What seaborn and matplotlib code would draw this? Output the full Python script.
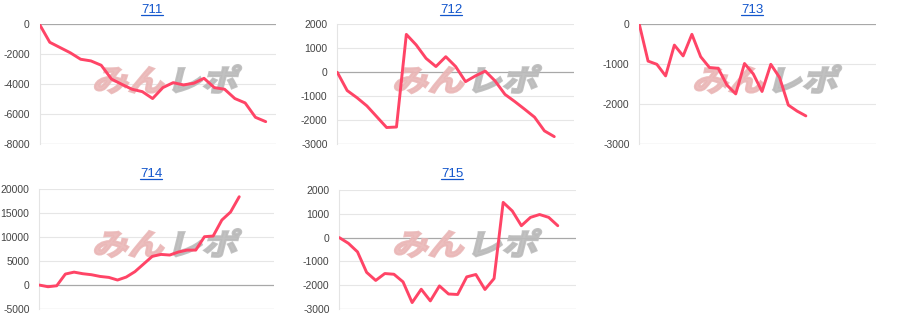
import matplotlib
matplotlib.use("Agg")
import numpy as np
import pandas as pd
import seaborn as sns
import matplotlib.pyplot as plt
from matplotlib.textpath import TextPath
from matplotlib.patches import PathPatch
from matplotlib.font_manager import FontProperties
from matplotlib.transforms import Affine2D, IdentityTransform
from matplotlib.lines import Line2D

titles = ["711", "712", "713", "714", "715"]

v711 = [0, -1200, -1550, -1900, -2330, -2440, -2730, -3650, -4000, -4330, -4490,
        -4950, -4220, -3890, -4040, -3930, -3600, -4220, -4330, -4950, -5240, -6200, -6490]
v712 = [0, -760, -1060, -1400, -1850, -2300, -2280, 1580, 1140, 580, 240, 650, 240,
        -390, -150, 50, -360, -920, -1220, -1540, -1870, -2440, -2680]
v713 = [0, -920, -1000, -1290, -520, -790, -250, -810, -1080, -1100, -1520, -1740,
        -980, -1240, -1680, -1000, -1330, -2020, -2170, -2290]
v714 = [0, -350, -150, 2300, 2700, 2370, 2160, 1800, 1600, 1050, 1670, 2800, 4400,
        6000, 6400, 6270, 6900, 7300, 7300, 10100, 10240, 13580, 15250, 18450]
v715 = [0, -240, -600, -1460, -1800, -1510, -1540, -1860, -2730, -2170, -2660, -2030,
        -2370, -2390, -1650, -1550, -2180, -1720, 1480, 1120, 500, 850, 970, 850, 500]

series = [v711, v712, v713, v714, v715]
x_max = [23, 24, 27, 27, 26]
y_ticks = [
    [-8000, -6000, -4000, -2000, 0],
    [-3000, -2000, -1000, 0, 1000, 2000],
    [-3000, -2000, -1000, 0],
    [-5000, 0, 5000, 10000, 15000, 20000],
    [-3000, -2000, -1000, 0, 1000, 2000],
]

sns.set_style("white")
plt.rcParams["font.family"] = ["Liberation Sans", "DejaVu Sans"]

W, H = 900, 330
fig = plt.figure(figsize=(9, 3.3), dpi=100)

# axes boxes in pixels: left, right, top, bottom (from top of image)
boxes = [
    (39.5, 276, 24.3, 144.3),
    (337.3, 574, 24.3, 144.3),
    (639.3, 876, 24.3, 144.3),
    (39.3, 274, 189.3, 309),
    (339.3, 576, 190, 309),
]
title_pos = [(152, 10), (451, 10), (752, 10), (151, 174), (452, 174)]
cells = [(0, 0), (300, 0), (600, 0), (0, 164), (300, 164)]

line_color = "#ff4466"
texts = []
for i, (name, vals) in enumerate(zip(titles, series)):
    l, r, t, b = boxes[i]
    ax = fig.add_axes([l / W, 1 - b / H, (r - l) / W, (b - t) / H])
    df = pd.DataFrame({"x": np.arange(len(vals)), "y": vals})
    sns.lineplot(data=df, x="x", y="y", ax=ax, color=line_color, linewidth=2.1,
                 zorder=3)
    ticks = y_ticks[i]
    ax.set_ylim(ticks[0], ticks[-1])
    ax.set_xlim(0, x_max[i])
    ax.set_yticks(ticks)
    ax.set_yticklabels([str(v) for v in ticks])
    ax.set_xticks([])
    ax.set_xlabel("")
    ax.set_ylabel("")
    for s in ["top", "right", "bottom"]:
        ax.spines[s].set_visible(False)
    ax.spines["left"].set_color("#e4e4e4")
    ax.spines["left"].set_linewidth(0.8)
    ax.tick_params(axis="y", length=0, pad=7, labelsize=7.5, labelcolor="#444444")
    for tv in ticks:
        if tv == 0:
            c, lw = "#a8a8a8", 0.9
        elif tv == ticks[0]:
            c, lw = "#cccccc", 0.9
        else:
            c, lw = "#e6e6e6", 0.8
        ax.axhline(tv, color=c, linewidth=lw, zorder=0.5)
    if ax.get_legend() is not None:
        ax.get_legend().remove()

    tx, ty = title_pos[i]
    txt = fig.text(tx / W, 1 - ty / H, name, ha="center", va="center",
                   fontsize=9.5, color="#1155cc")
    texts.append(txt)

    # watermark
    cx, cy = cells[i]
    fp = FontProperties(family="Noto Sans CJK JP", weight="bold")
    size = 34
    p1 = TextPath((0, 0), "みん", prop=fp, size=size)
    p2 = TextPath((0, 0), "レポ", prop=fp, size=size)
    x0 = cx + 92
    ybase = H - (cy + 91)
    tr1 = Affine2D().scale(1.05, 0.88).skew_deg(14, 0).translate(x0, ybase)
    tr2 = Affine2D().scale(1.05, 0.88).skew_deg(14, 0).translate(x0 + 74, ybase)
    pp1 = PathPatch(p1, facecolor="#eab7b7", edgecolor="#eab7b7", linewidth=1.6,
                    alpha=0.9, transform=tr1 + IdentityTransform(), zorder=1.5,
                    clip_on=False)
    pp2 = PathPatch(p2, facecolor="#bbbbbb", edgecolor="#bbbbbb", linewidth=1.6,
                    alpha=0.9, transform=tr2 + IdentityTransform(), zorder=1.5,
                    clip_on=False)
    ax.add_artist(pp1)
    ax.add_artist(pp2)

fig.canvas.draw()
renderer = fig.canvas.get_renderer()
for txt in texts:
    bb = txt.get_window_extent(renderer)
    y = bb.y0 + 1
    fig.add_artist(Line2D([bb.x0, bb.x1], [y, y], color="#1155cc", linewidth=0.9,
                          transform=IdentityTransform()))

fig.savefig("out.png", dpi=100)
